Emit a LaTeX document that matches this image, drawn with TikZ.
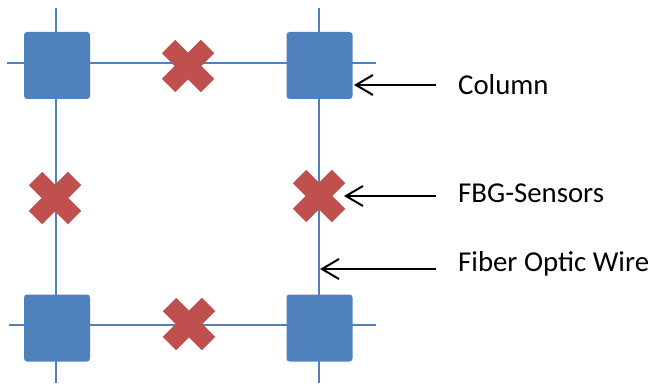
\documentclass[tikz,border=0pt]{standalone}
\usepackage{fontspec}
\setmainfont{Carlito}
\usetikzlibrary{shapes.misc,arrows.meta}
\definecolor{sqblue}{HTML}{4F81BD}
\definecolor{xred}{HTML}{C0504D}
\begin{document}
\begin{tikzpicture}[x=1pt,y=-1pt,
  wire/.style={draw=sqblue,line width=2.3pt},
  column/.style={fill=sqblue,rounded corners=3pt,minimum width=66pt,minimum height=67pt,inner sep=0pt,outer sep=0pt},
  sensor/.style={cross out,draw=xred,line width=19pt,minimum size=39pt,inner sep=0pt,outer sep=0pt},
  lbl/.style={anchor=base west,inner xsep=22pt,inner ysep=0pt,font=\fontsize{28.8}{34}\selectfont},
  pointer/.style={draw=black,line width=2pt,-{Straight Barb[length=17pt,width=20pt]}}]
\useasboundingbox (0,0) rectangle (652,385);
% wire end points
\coordinate (vl1) at (56,8);   \coordinate (vl2) at (56,383);
\coordinate (vr1) at (319,8);  \coordinate (vr2) at (319,383);
\coordinate (ht1) at (7,63);   \coordinate (ht2) at (376,63);
\coordinate (hb1) at (9,325);  \coordinate (hb2) at (376,325);
\draw[wire] (vl1) -- (vl2);
\draw[wire] (vr1) -- (vr2);
\draw[wire] (ht1) -- (ht2);
\draw[wire] (hb1) -- (hb2);
% columns
\node[column] (cTL) at (57,65.5) {};
\node[column] (cTR) at (319.5,65.5) {};
\node[column] (cBL) at (57,328) {};
\node[column] (cBR) at (319.5,328) {};
% sensors
\node[sensor] (sT) at (188,66) {};
\node[sensor] (sR) at (319,196) {};
\node[sensor] (sL) at (55,198) {};
\node[sensor] (sB) at (189,324) {};
% labels
\node[lbl] (lCol) at (436,95) {Column};
\node[lbl] (lFBG) at (436,202.7) {FBG-Sensors};
\node[lbl] (lFib) at (436,271.7) {Fiber Optic Wire};
% pointer tips
\coordinate (tCol) at (354,85);
\coordinate (tFBG) at (344,196);
\coordinate (tFib) at (320,269);
\draw[pointer] (lCol.west |- tCol) -- (tCol);
\draw[pointer] (lFBG.west |- tFBG) -- (tFBG);
\draw[pointer] (lFib.west |- tFib) -- (tFib);
\end{tikzpicture}
\end{document}
